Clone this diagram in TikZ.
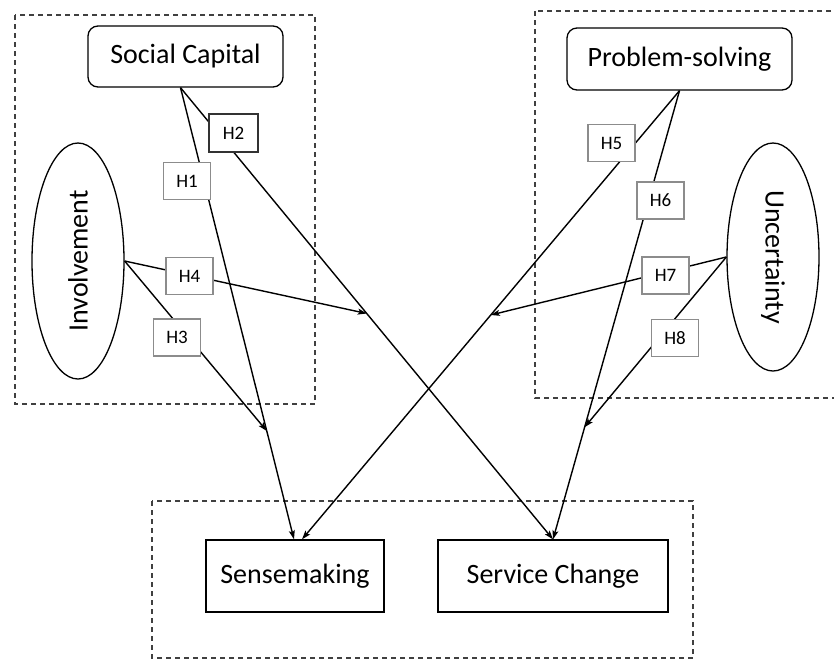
\documentclass[tikz,border=0pt]{standalone}
\usepackage{fontspec}
\setmainfont{Carlito}
\usetikzlibrary{arrows.meta,shapes.geometric}

\tikzset{
  construct/.style={draw, line width=1.3pt, rounded corners=10pt, font=\fontsize{28}{30}\selectfont},
  outcome/.style={draw, line width=1.3pt, font=\fontsize{28}{30}\selectfont},
  moderator/.style={draw, ellipse, line width=1.3pt, minimum width=236pt, minimum height=92pt, inner sep=0pt, font=\fontsize{28}{30}\selectfont},
  hyp/.style={draw=black!45, fill=white, line width=1.3pt, minimum width=47pt, minimum height=37pt, inner sep=0pt, font=\fontsize{19}{21}\selectfont},
  group/.style={draw=black!75, line width=1.3pt, dash pattern=on 5pt off 4pt},
  link/.style={line width=1.4pt, -{Stealth[length=9pt,width=6pt,inset=2pt]}},
}

\begin{document}
\begin{tikzpicture}[x=1pt, y=-1pt]
\useasboundingbox (0,0) rectangle (834,659);

% groups
\draw [group] (15,15) rectangle (315,404);
\draw [group] (535,11) rectangle (845,398);
\draw [group] (152,501) rectangle (693,658);

% constructs
\node (social) [construct, minimum width=195pt, minimum height=61pt] at (185.5,56.5) {Social Capital};
\node (problem) [construct, minimum width=225pt, minimum height=62pt] at (679.5,59) {Problem-solving};
\node (involve) [moderator, rotate=90] at (78,261) {Involvement};
\node (uncert) [moderator, rotate=-90, minimum width=228pt] at (773,257) {Uncertainty};
\node (sense) [outcome, minimum width=178pt, minimum height=72pt] at (295,576) {Sensemaking};
\node (change) [outcome, minimum width=230pt, minimum height=72pt] at (553,576) {Service Change};

\coordinate (socialout) at ([xshift=-5pt]social.south);

% main paths
\draw [link] (socialout) -- ([xshift=-1pt]sense.north) coordinate[pos=0.76] (h1mid);
\draw [link] (socialout) -- (change.north) coordinate[pos=0.5] (h2mid);
\draw [link] (problem.south) -- ([xshift=7pt]sense.north) coordinate[pos=0.5] (h5mid);
\draw [link] (problem.south) -- (change.north) coordinate[pos=0.75] (h6mid);

% moderating paths
\draw [link] (involve.south) -- (h1mid);
\draw [link] (involve.south) -- (h2mid);
\draw [link] (uncert.south) -- (h5mid);
\draw [link] (uncert.south) -- (h6mid);

% hypotheses
\node (h1) [hyp] at (187,181) {H1};
\node (h2) [hyp, draw=black!80, minimum width=49pt, minimum height=38pt] at (233.5,133) {H2};
\node (h3) [hyp] at (177,337.5) {H3};
\node (h4) [hyp] at (189.5,276) {H4};
\node (h5) [hyp] at (611.5,143) {H5};
\node (h6) [hyp] at (660.5,200.5) {H6};
\node (h7) [hyp] at (665.5,275.5) {H7};
\node (h8) [hyp] at (675,338) {H8};
\end{tikzpicture}
\end{document}
